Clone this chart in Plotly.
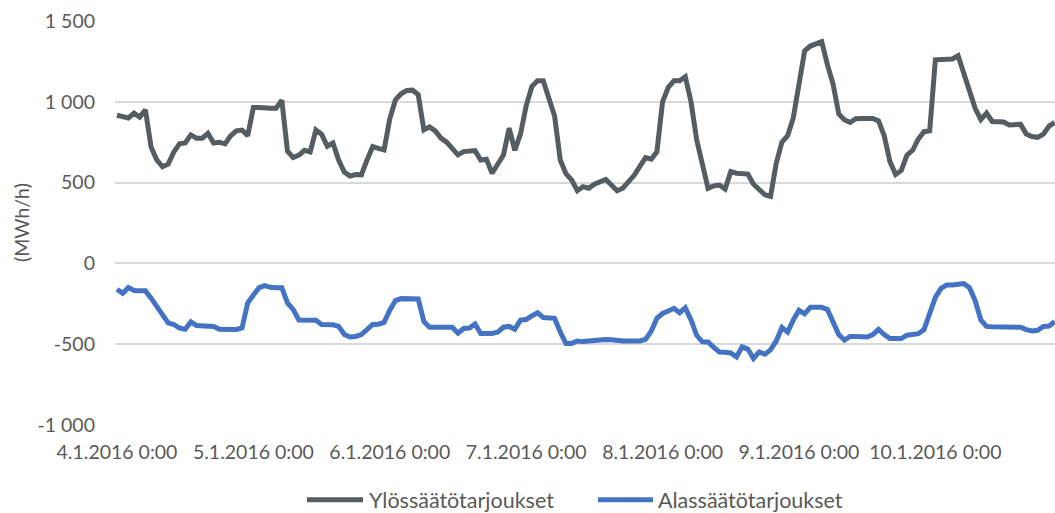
import plotly.graph_objects as go

# Hourly balancing bids, 4.1.2016 0:00 onwards (MWh/h)
hours = list(range(166))

ylos = [
    917, 905, 900, 930, 905, 950, 720, 640, 598, 615, 690, 740, 745, 795, 775, 775, 805, 745, 750, 740, 790, 820, 825, 790,
    965, 965, 960, 960, 960, 1010, 695, 655, 670, 700, 690, 826, 800, 725, 745, 640, 565, 540, 550, 548, 640, 723, 712, 702,
    895, 1012, 1050, 1070, 1072, 1045, 826, 845, 820, 775, 750, 715, 672, 692, 697, 698, 640, 645, 558, 615, 670, 837, 700, 800,
    975, 1095, 1130, 1130, 1030, 912, 640, 555, 516, 450, 475, 465, 490, 505, 520, 485, 450, 465, 500, 545, 600, 655, 645, 690,
    1000, 1090, 1130, 1130, 1155, 1000, 765, 630, 465, 480, 485, 460, 568, 558, 555, 553, 490, 455, 425, 415, 620, 750, 790, 900,
    1130, 1315, 1345, 1355, 1372, 1230, 1110, 925, 888, 872, 895, 897, 897, 897, 882, 790, 630, 550, 575, 670, 700, 770, 815, 820,
    1260, 1262, 1262, 1265, 1285, 1180, 1070, 960, 890, 930, 878, 878, 875, 857, 862, 860, 800, 785, 780, 800, 850, 872,
]

alas = [
    -160, -185, -150, -168, -170, -170, -215, -270, -320, -368, -378, -400, -408, -362, -385, -389, -389, -390, -408, -409, -409, -409, -400, -245,
    -196, -150, -137, -148, -150, -150, -245, -285, -350, -351, -351, -352, -378, -376, -380, -390, -440, -455, -452, -440, -412, -378, -376, -365,
    -290, -230, -218, -217, -217, -220, -360, -395, -395, -393, -393, -395, -432, -403, -400, -375, -434, -434, -434, -425, -395, -390, -408, -351,
    -347, -325, -306, -335, -335, -340, -425, -495, -495, -480, -484, -480, -474, -471, -471, -472, -479, -480, -480, -480, -480, -470, -420, -340,
    -310, -294, -278, -305, -275, -350, -445, -485, -486, -520, -548, -550, -554, -578, -517, -530, -588, -548, -562, -535, -480, -397, -425, -350,
    -290, -312, -272, -272, -272, -285, -370, -440, -475, -452, -453, -455, -455, -440, -408, -440, -465, -465, -465, -444, -440, -435, -410, -300,
    -210, -155, -134, -134, -132, -125, -150, -230, -350, -390, -392, -392, -392, -392, -390, -395, -410, -418, -414, -390, -388, -360,
]

x_tick_vals = [0, 24, 48, 72, 96, 120, 144]
x_tick_text = ["4.1.2016 0:00", "5.1.2016 0:00", "6.1.2016 0:00", "7.1.2016 0:00",
               "8.1.2016 0:00", "9.1.2016 0:00", "10.1.2016 0:00"]
y_tick_vals = [-1000, -500, 0, 500, 1000, 1500]
y_tick_text = ["-1 000", "-500", "0", "500", "1 000", "1 500"]

series_names = ["Ylössäätötarjoukset", "Alassäätötarjoukset"]
grey = "#545d62"
blue = "#4472c4"
text_col = "#595959"
font_family = "Lato"
tick_size = 19.5

fig = go.Figure()
fig.add_trace(go.Scatter(x=hours, y=ylos, mode="lines", name=series_names[0],
                         line=dict(color=grey, width=5), showlegend=False))
fig.add_trace(go.Scatter(x=hours, y=alas, mode="lines", name=series_names[1],
                         line=dict(color=blue, width=5), showlegend=False))

fig.update_layout(
    width=1055, height=513,
    margin=dict(l=115, r=0, t=21, b=88),
    paper_bgcolor="white", plot_bgcolor="white",
    font=dict(family=font_family, color=text_col, size=tick_size),
)
fig.update_xaxes(
    range=[-0.35, 165.05], tickvals=x_tick_vals, ticktext=x_tick_text,
    showgrid=False, zeroline=False, showline=False, ticks="",
    tickfont=dict(size=tick_size, color=text_col), ticklabelstandoff=13,
)
fig.update_yaxes(
    range=[-1000, 1500], tickvals=y_tick_vals, ticktext=y_tick_text,
    showgrid=True, gridcolor="#d9d9d9", gridwidth=1.5, zeroline=False,
    showline=False, ticks="", tickfont=dict(size=tick_size, color=text_col),
    ticklabelstandoff=19,
)

# Axis title
fig.add_annotation(text="(MWh/h)", textangle=-90, xref="paper", yref="paper",
                   x=-0.1, y=0.5, xanchor="center", yanchor="middle",
                   showarrow=False, font=dict(size=tick_size, color=text_col))

# Legend drawn below the plot
legend_y = -0.185
items = [(307, 363, 367, series_names[0], grey), (598, 653, 656, series_names[1], blue)]
for x0, x1, tx, name, col in items:
    fig.add_shape(type="line", xref="paper", yref="paper",
                  x0=(x0 - 115) / 940, x1=(x1 - 115) / 940, y0=legend_y, y1=legend_y,
                  line=dict(color=col, width=5))
    fig.add_annotation(text=name, xref="paper", yref="paper",
                       x=(tx - 115) / 940, y=legend_y, xanchor="left", yanchor="middle",
                       showarrow=False, font=dict(size=21.5, color=text_col))

fig.write_html("out.html")
